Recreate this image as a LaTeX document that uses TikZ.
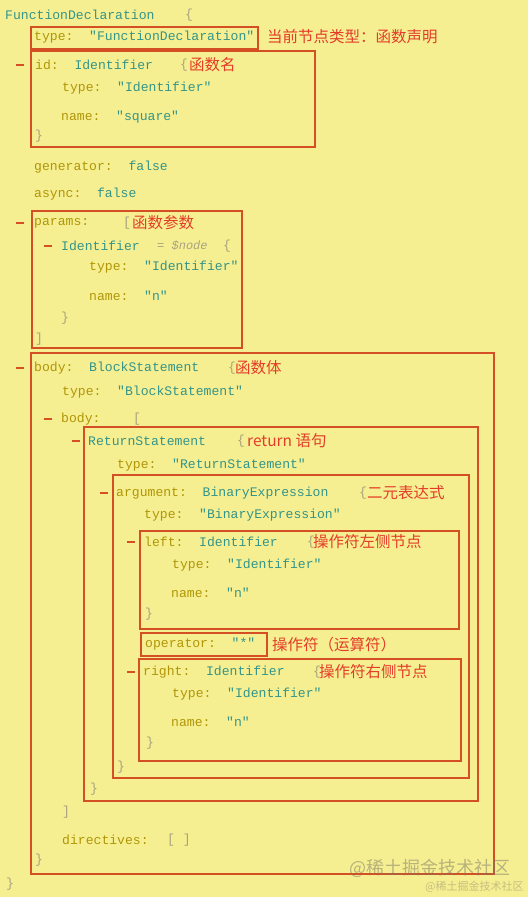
\documentclass[tikz,border=0pt]{standalone}
\usepackage{fontspec}
\setmonofont{Liberation Mono}
\newfontfamily\cjkfont{Noto Sans CJK SC}
\usepackage{xcolor}
\usepackage{tikz}
\usetikzlibrary{positioning}

\definecolor{bgyellow}{RGB}{246,239,146}
\definecolor{keycol}{RGB}{176,150,6}
\definecolor{valcol}{RGB}{52,148,136}
\definecolor{bracecol}{RGB}{168,162,128}
\definecolor{boxcol}{RGB}{212,80,36}
\definecolor{notecol}{RGB}{228,60,40}
\definecolor{wmcol}{RGB}{120,118,100}

\newcommand{\vv}[1]{\textcolor{valcol}{#1}}

\begin{document}
\begin{tikzpicture}[x=1pt, y=-1pt]
  % Styles
  \tikzstyle{codeline} = [anchor=west, inner sep=0pt, text=keycol, font=\ttfamily\fontsize{13.1}{15}\selectfont]
  \tikzstyle{typename} = [codeline, text=valcol]
  \tikzstyle{bracetext} = [codeline, text=bracecol]
  \tikzstyle{aliastext} = [codeline, text=bracecol, font=\ttfamily\itshape\fontsize{12}{14}\selectfont]
  \tikzstyle{note} = [anchor=west, inner sep=0pt, text=notecol, font=\cjkfont\fontsize{15.5}{18}\selectfont]
  \tikzstyle{foldmark} = [fill=boxcol, minimum width=8pt, minimum height=2pt, inner sep=0pt]
  \tikzstyle{redbox} = [draw=boxcol, line width=1.1pt]
  \tikzstyle{wmtext} = [anchor=west, inner sep=0pt, text=wmcol, font=\cjkfont]

  % Background
  \useasboundingbox (0,0) rectangle (528,897);
  \fill[bgyellow] (0,0) rectangle (528,897);

  % Root
  \node[typename] (fd) at (5,15) {FunctionDeclaration};
  \node[bracetext] (fdopen) at (185,15) {\{};
  \node[codeline] (fdtype) at (34,37) {type:~~\vv{"FunctionDeclaration"}};
  \node[note] (fdnote) at (267,37) {当前节点类型：函数声明};
  \draw[redbox] (31,27) rectangle (258,49);

  % id
  \node[foldmark] (idfold) at (20,65) {};
  \node[codeline] (id) at (35,65) {id:~~\vv{Identifier}};
  \node[bracetext] (idopen) at (180,65) {\{};
  \node[note] (idnote) at (189,65) {函数名};
  \node[codeline] (idtype) at (62,88) {type:~~\vv{"Identifier"}};
  \node[codeline] (idname) at (61,117) {name:~~\vv{"square"}};
  \node[bracetext] (idclose) at (35,136) {\}};
  \draw[redbox] (31,51) rectangle (315,147);

  \node[codeline] (gen) at (34,167) {generator:~~\vv{false}};
  \node[codeline] (async) at (34,194) {async:~~\vv{false}};

  % params
  \node[foldmark] (pfold) at (20,223) {};
  \node[codeline] (params) at (34,223) {params:};
  \node[bracetext] (popen) at (123,223) {[};
  \node[note] (pnote) at (132,223) {函数参数};
  \node[foldmark] (pidfold) at (48,246) {};
  \node[typename] (pid) at (61,246) {Identifier};
  \node[aliastext] (palias) at (157,246) {= \$node};
  \node[bracetext] (pidopen) at (223,246) {\{};
  \node[codeline] (ptype) at (89,267) {type:~~\vv{"Identifier"}};
  \node[codeline] (pname) at (89,296) {name:~~\vv{"n"}};
  \node[bracetext] (pidclose) at (61,318) {\}};
  \node[bracetext] (pclose) at (35,339) {]};
  \draw[redbox] (32,211) rectangle (242,348);

  % body
  \node[foldmark] (bfold) at (20,368) {};
  \node[codeline] (body) at (34,368) {body:~~\vv{BlockStatement}};
  \node[bracetext] (bopen) at (228,368) {\{};
  \node[note] (bnote) at (235,368) {函数体};
  \node[codeline] (btype) at (62,392) {type:~~\vv{"BlockStatement"}};
  \node[foldmark] (bbfold) at (48,419) {};
  \node[codeline] (bbody) at (61,419) {body:};
  \node[bracetext] (bbopen) at (133,419) {[};
  \draw[redbox] (31,353) rectangle (494,874);

  % return
  \node[foldmark] (rfold) at (76,441) {};
  \node[typename] (ret) at (88,441) {ReturnStatement};
  \node[bracetext] (ropen) at (237,441) {\{};
  \node[note] (rnote) at (247,441) {return 语句};
  \node[codeline] (rtype) at (117,465) {type:~~\vv{"ReturnStatement"}};
  \draw[redbox] (84,427) rectangle (478,801);

  % argument
  \node[foldmark] (afold) at (104,493) {};
  \node[codeline] (arg) at (116,493) {argument:~~\vv{BinaryExpression}};
  \node[bracetext] (aopen) at (359,493) {\{};
  \node[note] (anote) at (367,493) {二元表达式};
  \node[codeline] (atype) at (144,515) {type:~~\vv{"BinaryExpression"}};
  \draw[redbox] (113,475) rectangle (469,778);

  % left
  \node[foldmark] (lfold) at (131,542) {};
  \node[codeline] (left) at (144,542) {left:~~\vv{Identifier}};
  \node[bracetext] (lopen) at (307,542) {\{};
  \node[note] (lnote) at (313,542) {操作符左侧节点};
  \node[codeline] (ltype) at (172,565) {type:~~\vv{"Identifier"}};
  \node[codeline] (lname) at (171,593) {name:~~\vv{"n"}};
  \node[bracetext] (lclose) at (145,614) {\}};
  \draw[redbox] (140,531) rectangle (459,629);

  % operator
  \node[codeline] (op) at (145,644) {operator:~~\vv{"*"}};
  \node[note] (opnote) at (272,645) {操作符（运算符）};
  \draw[redbox] (141,633) rectangle (267,656);

  % right
  \node[foldmark] (rtfold) at (131,672) {};
  \node[codeline] (right) at (143,672) {right:~~\vv{Identifier}};
  \node[bracetext] (rtopen) at (313,672) {\{};
  \node[note] (rtnote) at (319,672) {操作符右侧节点};
  \node[codeline] (rttype) at (172,694) {type:~~\vv{"Identifier"}};
  \node[codeline] (rtname) at (171,722) {name:~~\vv{"n"}};
  \node[bracetext] (rtclose) at (146,743) {\}};
  \draw[redbox] (139,659) rectangle (461,761);

  % closing lines
  \node[bracetext] (aclose) at (117,767) {\}};
  \node[bracetext] (rclose) at (90,789) {\}};
  \node[bracetext] (bbclose) at (62,812) {]};
  \node[codeline] (dir) at (62,840) {directives:};
  \node[bracetext] (dirval) at (167,840) {[ ]};
  \node[bracetext] (bclose) at (35,860) {\}};
  \node[bracetext] (fdclose) at (6,884) {\}};

  % Watermark
  \node[wmtext, font=\cjkfont\fontsize{18}{20}\selectfont, opacity=0.5] (wmbig) at (349,868) {@稀土掘金技术社区};
  \node[wmtext, font=\cjkfont\fontsize{11}{12}\selectfont, opacity=0.4] (wmsmall) at (425,887) {@稀土掘金技术社区};
\end{tikzpicture}
\end{document}
